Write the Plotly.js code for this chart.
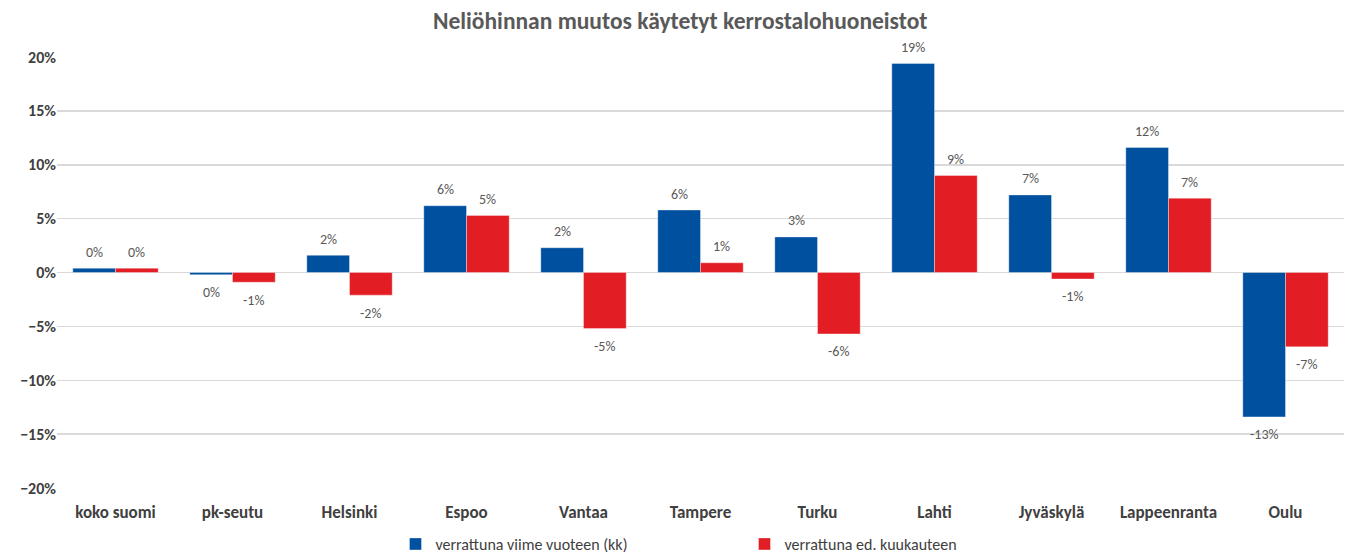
<!DOCTYPE html>
<html>
<head>
<meta charset="utf-8">
<script src="https://cdn.plot.ly/plotly-3.0.1.min.js"></script>
<style>html,body{margin:0;padding:0;background:#fff;}#chart{width:1347px;height:554px;}</style>
</head>
<body>
<div id="chart"></div>
<script>
const categories = ["koko suomi","pk-seutu","Helsinki","Espoo","Vantaa","Tampere","Turku","Lahti","Jyväskylä","Lappeenranta","Oulu"];
const vuoteen = [0.4, -0.2, 1.6, 6.2, 2.3, 5.8, 3.3, 19.4, 7.2, 11.6, -13.4];
const kuukauteen = [0.4, -0.9, -2.1, 5.3, -5.2, 0.9, -5.7, 9.0, -0.6, 6.9, -6.9];
const seriesNames = ["verrattuna viime vuoteen (kk)", "verrattuna ed. kuukauteen"];
const colors = ["#0050A0", "#E21D24"];

const FONT = "Calibri, Carlito, Lato, 'Open Sans', sans-serif";
const lab = v => ((Math.round(v) || 0) + "%");

const series = [vuoteen, kuukauteen];
const traces = series.map((vals, i) => ({
  type: "bar",
  name: seriesNames[i],
  x: categories,
  y: vals,
  marker: {color: colors[i], line: {color: "rgba(255,255,255,0.6)", width: 0.6}},
  hoverinfo: "x+y"
}));

// data labels placed just beyond each bar end (offset like Excel's "outside end")
const annotations = [];
series.forEach((vals, s) => {
  vals.forEach((v, i) => {
    annotations.push({
      x: categories[i], y: v, xref: "x", yref: "y",
      text: lab(v), showarrow: false,
      xshift: s === 0 ? -21.4 : 21.4,
      yshift: v >= 0 ? 16 : -18,
      xanchor: "center", yanchor: "middle",
      font: {family: FONT, size: 14, color: "#595959"}
    });
  });
});

const layout = {
  width: 1347, height: 554,
  margin: {l: 57, r: 3, t: 57, b: 66},
  paper_bgcolor: "#fff", plot_bgcolor: "#fff",
  title: {text: "<b>Neliöhinnan muutos käytetyt kerrostalohuoneistot</b>", x: 0.505, xanchor: "center", y: 0.963, yanchor: "middle",
          font: {family: FONT, size: 23.5, color: "#595959"}},
  barmode: "group",
  bargap: 0.27,
  bargroupgap: 0,
  showlegend: true,
  legend: {orientation: "h", xref: "paper", x: 0.263, xanchor: "left",
           yref: "container", y: 0.018, yanchor: "middle",
           font: {family: FONT, size: 16, color: "#404040"}, itemwidth: 30,
           entrywidth: 304, entrywidthmode: "pixels", traceorder: "normal"},
  annotations: annotations,
  xaxis: {type: "category", showgrid: false, showline: false, ticks: "", ticklabelstandoff: 12,
          tickfont: {family: FONT, size: 17, color: "#404040", weight: "bold"}, automargin: false},
  yaxis: {range: [-20, 20], dtick: 5, tick0: 0, ticksuffix: "%", showgrid: true, gridcolor: "#D9D9D9", gridwidth: 1.5,
          zeroline: true, zerolinecolor: "#D9D9D9", zerolinewidth: 1.5, showline: false, ticks: "",
          tickfont: {family: FONT, size: 16, color: "#404040", weight: "bold"}, automargin: false}
};

Plotly.newPlot("chart", traces, layout, {displayModeBar: false, staticPlot: true});
</script>
</body>
</html>
